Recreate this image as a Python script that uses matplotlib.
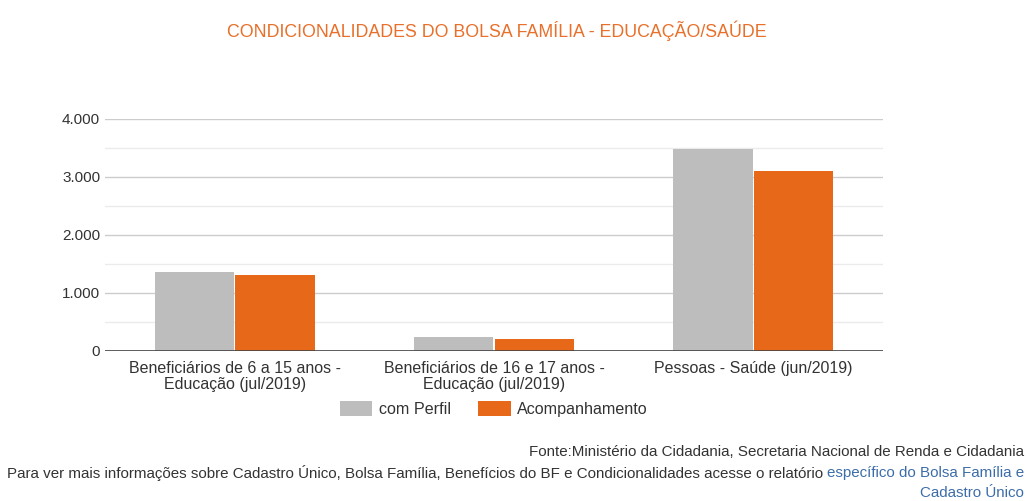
import numpy as np
import matplotlib
matplotlib.use("Agg")
import matplotlib.pyplot as plt
from matplotlib.ticker import FuncFormatter, MultipleLocator

plt.rcParams["font.family"] = ["Liberation Sans", "DejaVu Sans"]

categories = ["Beneficiários de 6 a 15 anos -\nEducação (jul/2019)",
              "Beneficiários de 16 e 17 anos -\nEducação (jul/2019)",
              "Pessoas - Saúde (jun/2019)"]
com_perfil = [1370, 235, 3480]
acompanhamento = [1310, 205, 3110]
series_names = ["com Perfil", "Acompanhamento"]
yticks = [0, 1000, 2000, 3000, 4000]

GRAY = "#bdbdbd"
ORANGE = "#e8681a"
TITLE_C = "#e8702a"
LINK = "#3c6da8"
TXT = "#333333"

fig = plt.figure(figsize=(10.30, 5.01), dpi=100, facecolor="white")
ax = fig.add_axes([105 / 1030, 1 - 351 / 501, 778 / 1030, 232 / 501])

x = np.arange(len(categories))
w = 0.305
ax.bar(x - w / 2 - 0.003, com_perfil, w, color=GRAY, label=series_names[0], zorder=3)
ax.bar(x + w / 2 + 0.003, acompanhamento, w, color=ORANGE, label=series_names[1], zorder=3)

ax.set_xlim(-0.5, 2.5)
ax.set_ylim(0, 4000)
ax.set_yticks(yticks)
ax.yaxis.set_minor_locator(MultipleLocator(500))
ax.yaxis.set_major_formatter(FuncFormatter(lambda v, p: f"{int(v):,}".replace(",", ".")))
ax.grid(axis="y", which="major", color="#cccccc", lw=1.0, zorder=0)
ax.grid(axis="y", which="minor", color="#ebebeb", lw=1.0, zorder=0)
ax.axhline(0, color="#444444", lw=1.2, zorder=4)
ax.set_xticks(x)
ax.set_xticklabels(categories, fontsize=11.5, color=TXT, linespacing=1.05)
ax.tick_params(axis="both", which="both", length=0, colors=TXT)
ax.tick_params(axis="y", labelsize=11, pad=3.5)
ax.tick_params(axis="x", pad=7.5)
for s in ax.spines.values():
    s.set_visible(False)

fig.text(497 / 1030, 1 - 31 / 501, "CONDICIONALIDADES DO BOLSA FAMÍLIA - EDUCAÇÃO/SAÚDE",
         ha="center", va="center", fontsize=12.8, color=TITLE_C)

fig.legend(loc="center", bbox_to_anchor=(494 / 1030, 1 - 409 / 501), ncol=2, frameon=False,
           fontsize=11.6, handlelength=2.0, handleheight=1.1, columnspacing=1.7, handletextpad=0.4,
           labelcolor=TXT)

# footer
fs = 10.9
fig.text(1024 / 1030, 1 - 452 / 501, "Fonte:Ministério da Cidadania, Secretaria Nacional de Renda e Cidadania",
         ha="right", va="center", fontsize=fs, color=TXT)
blue = fig.text(1024 / 1030, 1 - 473 / 501, "específico do Bolsa Família e",
                ha="right", va="center", fontsize=fs, color=LINK)
fig.canvas.draw()
bb = blue.get_window_extent(fig.canvas.get_renderer())
fig.text(bb.x0 / fig.bbox.width - 0.004, 1 - 473 / 501,
         "Para ver mais informações sobre Cadastro Único, Bolsa Família, Benefícios do BF e "
         "Condicionalidades acesse o relatório",
         ha="right", va="center", fontsize=fs, color=TXT)
fig.text(1024 / 1030, 1 - 493 / 501, "Cadastro Único", ha="right", va="center",
         fontsize=fs, color=LINK)

fig.savefig("out.png", dpi=100, facecolor="white")
